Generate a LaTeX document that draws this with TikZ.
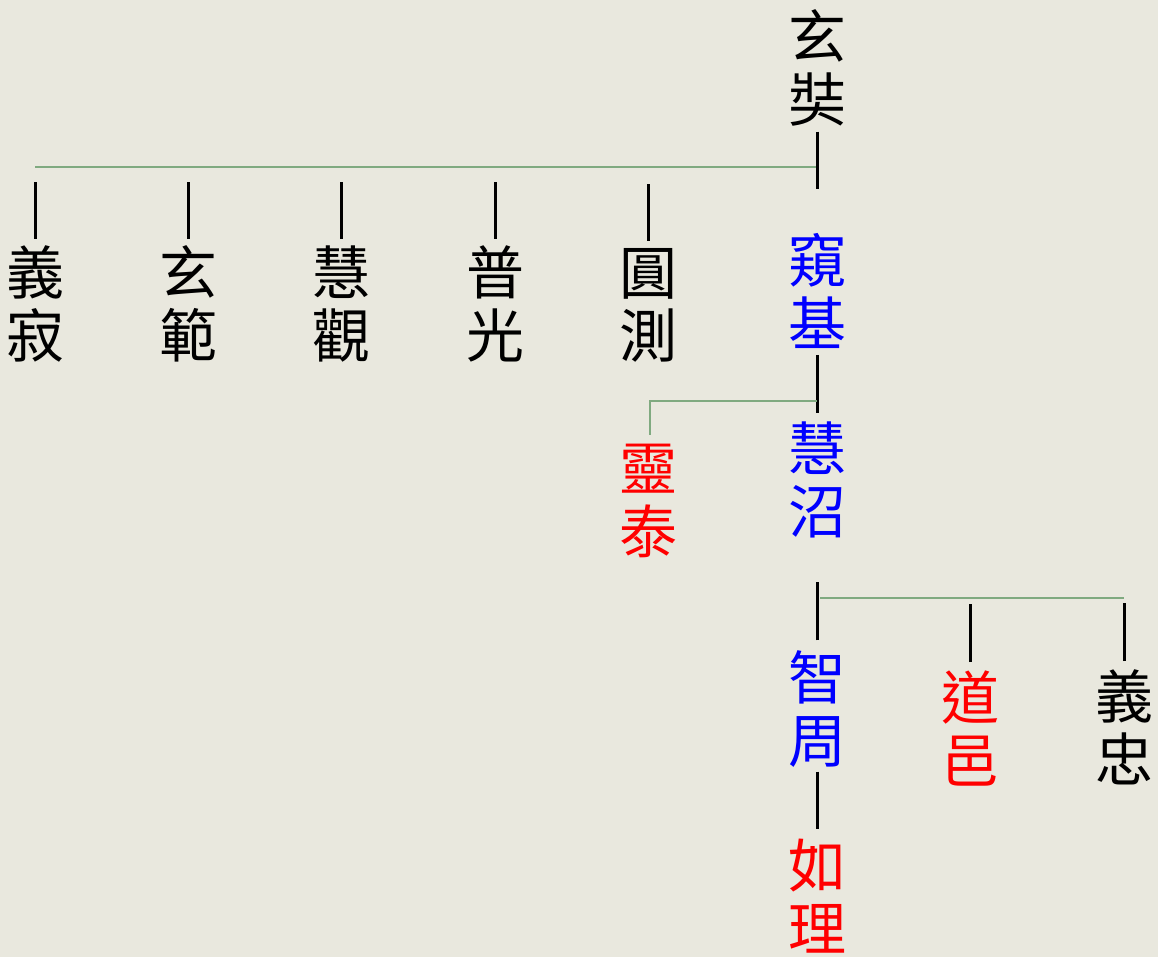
\documentclass[tikz,border=0pt]{standalone}
\usepackage{fontspec}
\newfontfamily\cjk{Noto Sans CJK TC}
\definecolor{paper}{RGB}{233,232,222}
\definecolor{barcol}{RGB}{128,170,128}

\begin{document}
\begin{tikzpicture}[x=1pt,y=-1pt,
		monk/.style={font=\cjk\fontsize{58}{63}\selectfont,align=center,inner sep=0pt},
		stub/.style={draw=black,line width=3pt},
		bar/.style={draw=barcol,line width=2pt}]
	\fill[paper] (0,0) rectangle (1158,957);
	\useasboundingbox (0,0) rectangle (1158,957);
	% first generation
	\node[monk] (xz) at (817,68) {玄\\奘};
	\node[monk] (yiji) at (35,304) {義\\寂};
	\node[monk] (xuanfan) at (188,304) {玄\\範};
	\node[monk] (huiguan) at (341,304) {慧\\觀};
	\node[monk] (puguang) at (495,304) {普\\光};
	\node[monk] (yuance) at (648,305) {圓\\測};
	\node[monk,blue] (kuiji) at (817,291) {窺\\基};
	\coordinate (j1) at (817,167);
	\draw[bar] (j1) -- (j1 -| yiji);
	\draw[stub] (xz.south) ++(0,5) -- ++(0,57);
	\foreach \n in {yiji,xuanfan,huiguan,puguang,yuance}
		\draw[stub] (\n.north) ++(0,-7) -- ++(0,-57);
	% second generation
	\node[monk,red] (lingtai) at (648,501) {靈\\泰};
	\node[monk,blue] (huizhao) at (817,480) {慧\\沼};
	\coordinate (j2) at (817,401);
	\draw[stub] (kuiji.south) ++(0,6) -- ++(0,58);
	\draw[bar] (j2) -| ([xshift=2pt,yshift=9pt]lingtai.north);
	% third generation
	\node[monk,blue] (zhizhou) at (817,709) {智\\周};
	\node[monk,red] (daoyi) at (970,728) {道\\邑};
	\node[monk] (yizhong) at (1124,727) {義\\忠};
	\node[monk,red] (ruli) at (817,896) {如\\理};
	\coordinate (j3) at (820,598);
	\draw[bar] (j3) -- (j3 -| yizhong);
	\draw[stub] (zhizhou.north) ++(0,-10) -- ++(0,-58);
	\foreach \n in {daoyi,yizhong}
		\draw[stub] (\n.north) ++(0,-8) -- ++(0,-58);
	\draw[stub] (zhizhou.south) ++(0,4) -- ++(0,57);
\end{tikzpicture}
\end{document}
